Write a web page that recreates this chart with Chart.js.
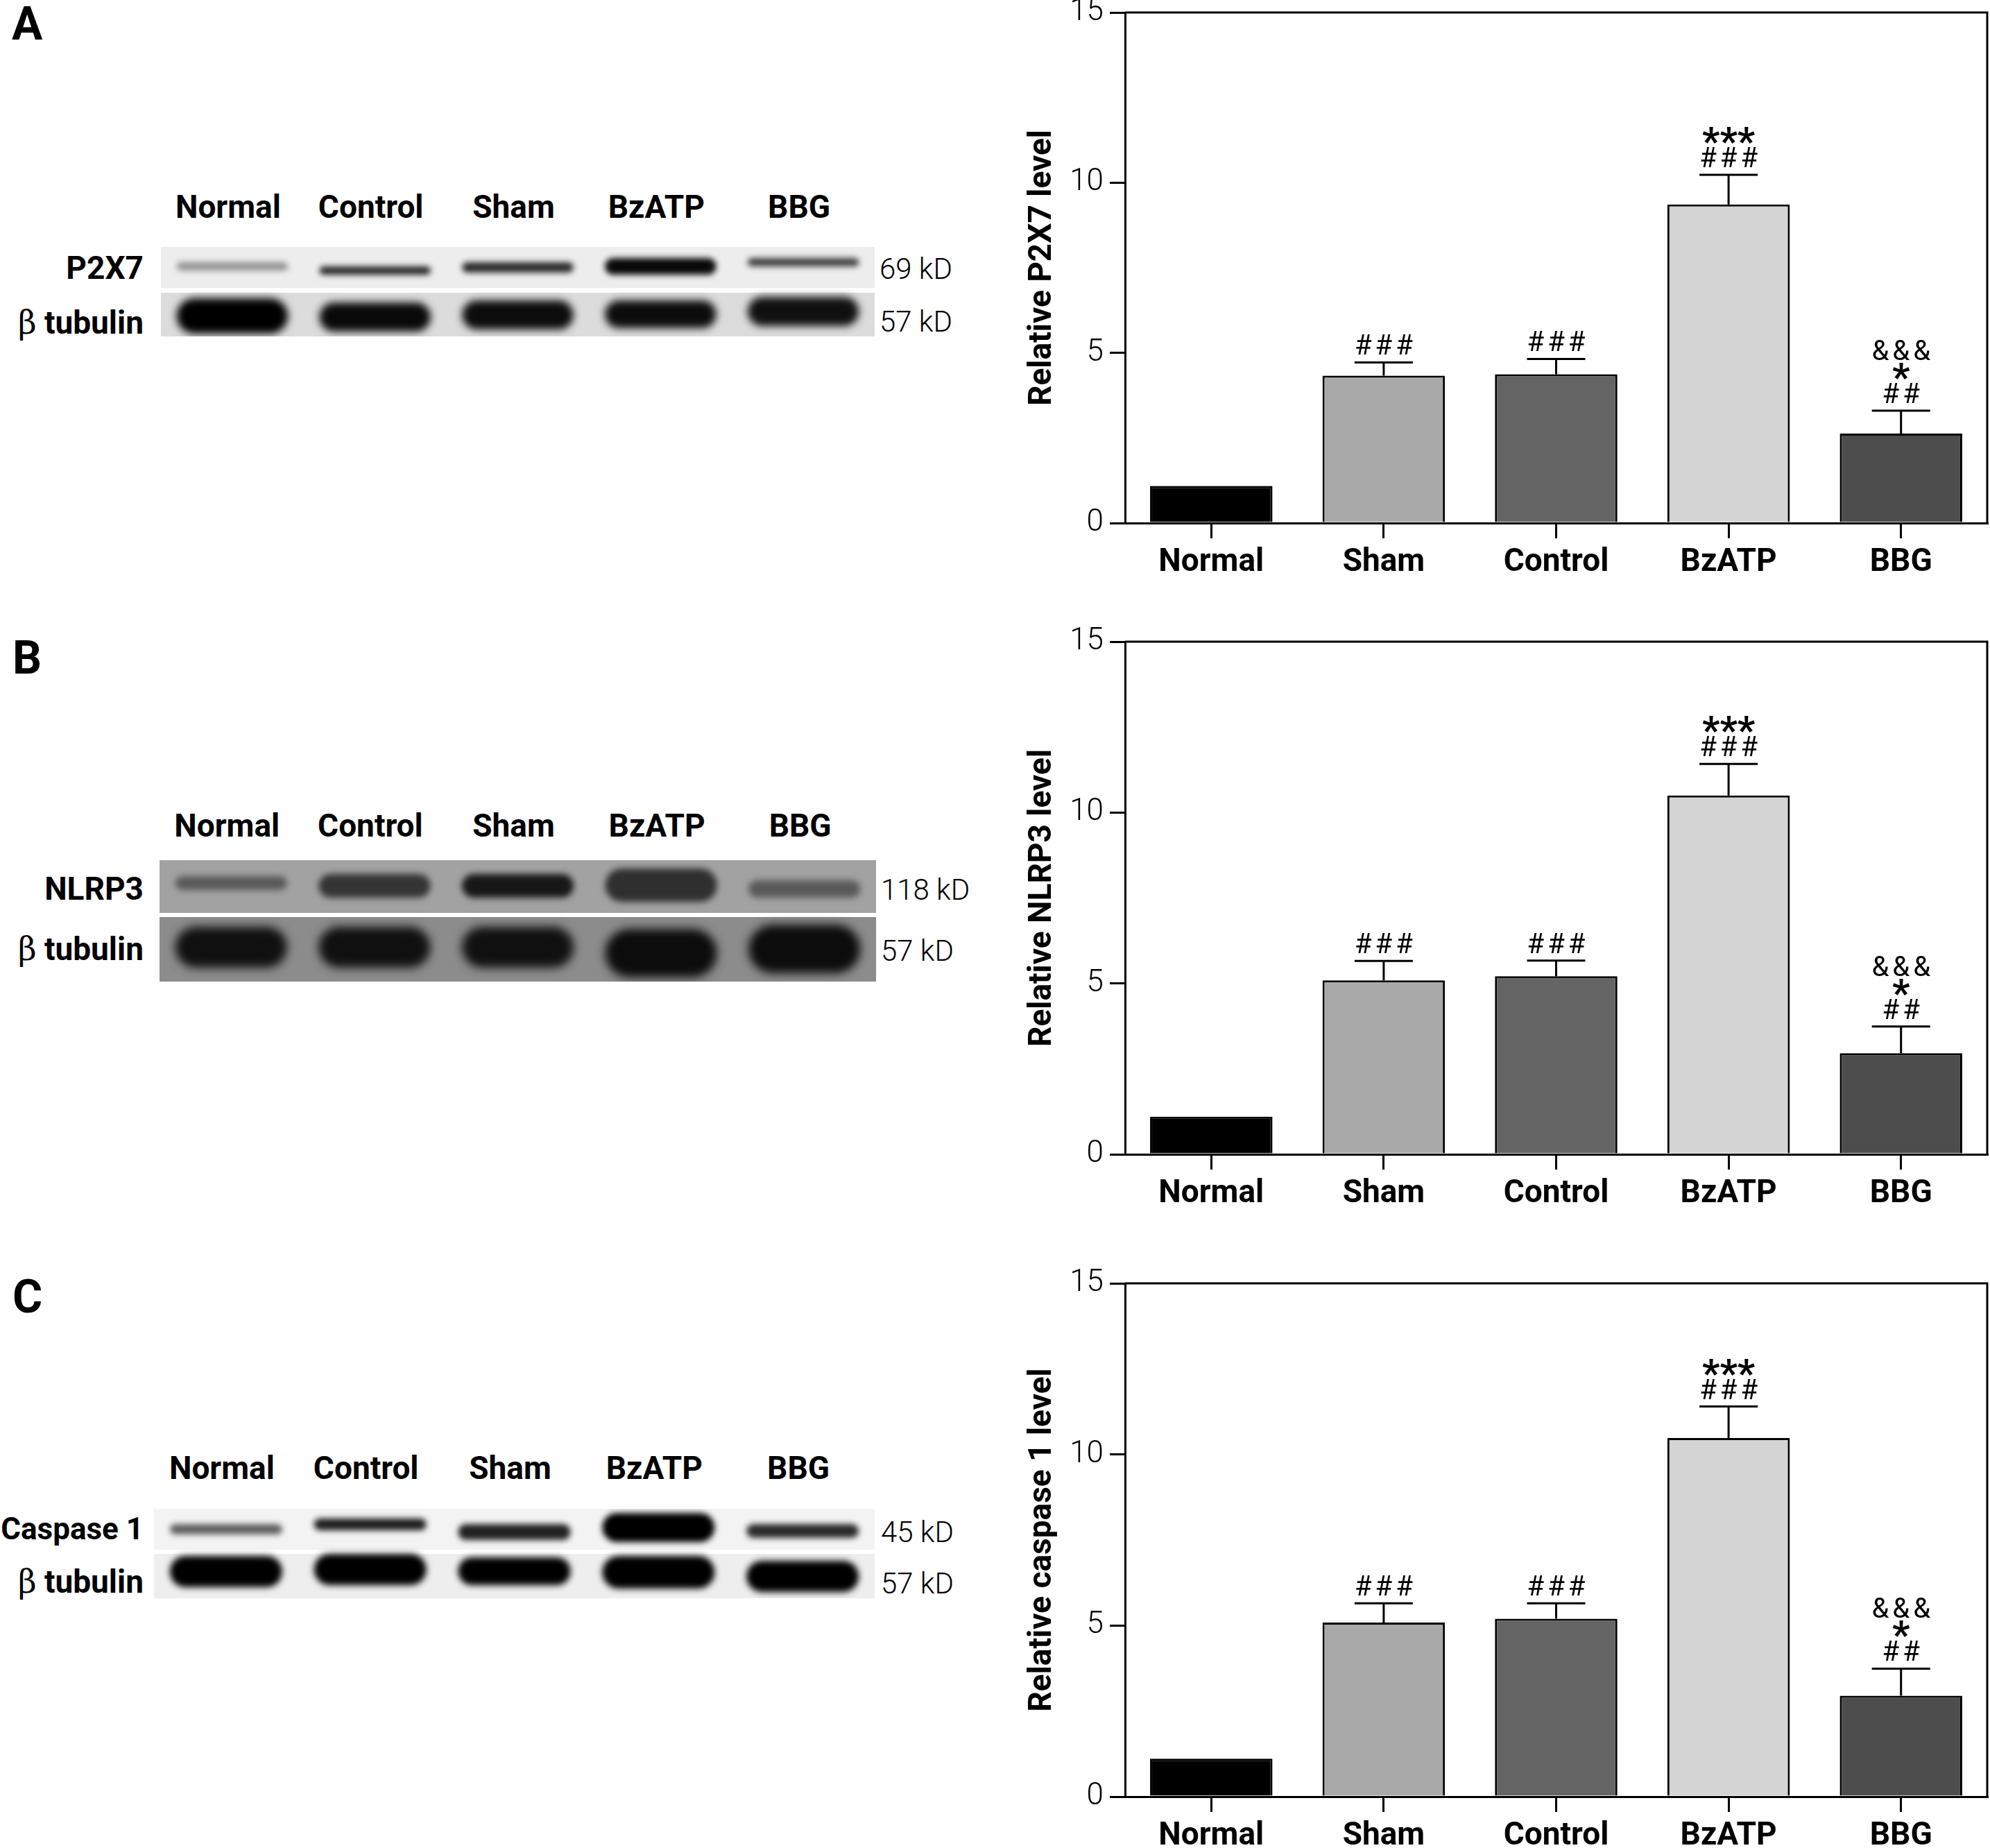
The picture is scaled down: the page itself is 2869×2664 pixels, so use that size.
<!DOCTYPE html>
<html>
<head>
<meta charset="utf-8">
<script src="https://cdn.jsdelivr.net/npm/chart.js@4.4.1/dist/chart.umd.min.js"></script>
<style>
  body { margin: 0; background: #fff; width: 2869px; height: 2664px; position: relative; overflow: hidden; }
  canvas { position: absolute; }
  .lbl { position: absolute; white-space: nowrap; line-height: 1; color: #000; font-family: Roboto, 'Noto Sans', sans-serif; }
  .beta { font-weight: normal; font-family: 'DejaVu Serif', 'Liberation Serif', serif; }
</style>
</head>
<body>
<canvas id="blotA" width="1029" height="129" style="left:232px;top:356px"></canvas>
<canvas id="blotB" width="1033" height="175" style="left:230px;top:1240px"></canvas>
<canvas id="blotC" width="1039" height="129" style="left:222px;top:2175px"></canvas>
<canvas id="chartA" width="1419" height="880" style="left:1450px;top:0px"></canvas>
<canvas id="chartB" width="1419" height="880" style="left:1450px;top:900px"></canvas>
<canvas id="chartC" width="1419" height="880" style="left:1450px;top:1784px"></canvas>
<script>
const FONT = "Roboto, 'Noto Sans', sans-serif";

// groups on the bar charts and lanes on the blots (different order)
const groups = ['Normal', 'Sham', 'Control', 'BzATP', 'BBG'];
const lanes = ['Normal', 'Control', 'Sham', 'BzATP', 'BBG'];
const yTicks = [0, 5, 10, 15];

// mean and upper end of the error bar
const p2x7Mean = [1.09, 4.33, 4.37, 9.36, 2.63];
const p2x7Err = [1.09, 4.72, 4.82, 10.23, 3.30];
const nlrp3Mean = [1.10, 5.09, 5.21, 10.50, 2.96];
const nlrp3Err = [1.10, 5.66, 5.67, 11.42, 3.74];
const casp1Mean = [1.11, 5.09, 5.20, 10.48, 2.95];
const casp1Err = [1.11, 5.65, 5.65, 11.40, 3.74];

// significance marks, bottom line first
const marks = [[], ['###'], ['###'], ['###', '***'], ['##', '*', '&&&']];
const barColors = ['#000000', '#a9a9a9', '#646464', '#d4d4d4', '#4d4d4d'];

// blot bands: extent along the gel (rows) and darkness 0..1
const p2x7Bands = [[22, 34], [28, 40], [22, 37], [16, 40], [16, 28]];
const p2x7Dark = [0.38, 0.84, 0.82, 0.96, 0.74];
const tubABands = [[74, 125], [80, 122], [77, 119], [77, 117], [72, 114]];
const tubADark = [1, 0.96, 0.95, 0.95, 0.93];

const nlrp3Bands = [[23, 43], [20, 54], [20, 54], [12, 60], [29, 54]];
const nlrp3Dark = [0.62, 0.78, 0.9, 0.8, 0.62];
const tubBBands = [[96, 155], [96, 155], [96, 155], [99, 169], [93, 163]];
const tubBDark = [0.93, 0.93, 0.93, 0.95, 0.95];

const casp1Bands = [[22, 37], [14, 31], [22, 45], [6, 48], [22, 42]];
const casp1Dark = [0.6, 0.88, 0.86, 1, 0.82];
const tubCBands = [[68, 113], [65, 110], [70, 110], [68, 115], [75, 120]];
const tubCDark = [1, 1, 1, 1, 1];

function shade(d) {
    const g = Math.round(235 * (1 - d));
    return `rgb(${g},${g},${g})`;
}

const stripPlugin = {
    id: 'strips',
    beforeDatasetsDraw(chart) {
        const { ctx, chartArea, scales } = chart;
        (chart.options.strips || []).forEach(s => {
            const y0 = scales.y.getPixelForValue(s.from);
            const y1 = scales.y.getPixelForValue(s.to);
            ctx.fillStyle = s.color;
            ctx.fillRect(chartArea.left, y0, chartArea.right - chartArea.left, y1 - y0);
        });
    }
};

const blurPlugin = {
    id: 'blur',
    beforeDatasetDraw(chart, args) {
        chart.ctx.save();
        chart.ctx.filter = `blur(${chart.data.datasets[args.index].blur || 0}px)`;
    },
    afterDatasetDraw(chart) {
        chart.ctx.restore();
    }
};

function blot(id, rows, strips, bandSets) {
    return new Chart(document.getElementById(id), {
        type: 'bar',
        data: {
            labels: lanes,
            datasets: bandSets.map(b => ({
                data: b.bands,
                backgroundColor: b.dark.map(shade),
                borderWidth: 0,
                borderRadius: 100,
                borderSkipped: false,
                barPercentage: 0.78,
                categoryPercentage: 1,
                grouped: false,
                blur: b.blur
            }))
        },
        options: {
            responsive: false, animation: false, devicePixelRatio: 1,
            strips: strips,
            layout: { padding: 0 },
            plugins: { legend: { display: false }, tooltip: { enabled: false } },
            scales: {
                x: { display: false },
                y: { display: false, reverse: true, min: 0, max: rows }
            }
        },
        plugins: [stripPlugin, blurPlugin]
    });
}

const framePlugin = {
    id: 'frame',
    afterDraw(chart) {
        const { ctx, chartArea } = chart;
        ctx.save();
        ctx.strokeStyle = '#000';
        ctx.lineWidth = 3;
        ctx.beginPath();
        ctx.moveTo(chartArea.left, chartArea.top);
        ctx.lineTo(chartArea.right, chartArea.top);
        ctx.lineTo(chartArea.right, chartArea.bottom);
        ctx.stroke();
        ctx.restore();
    }
};

const errorPlugin = {
    id: 'errors',
    afterDatasetsDraw(chart) {
        const { ctx, scales } = chart;
        const ds = chart.data.datasets[0];
        const meta = chart.getDatasetMeta(0);
        ctx.save();
        ctx.strokeStyle = '#000';
        ctx.fillStyle = '#000';
        ctx.lineWidth = 3;
        meta.data.forEach((bar, i) => {
            const yTop = scales.y.getPixelForValue(ds.data[i]);
            const yErr = scales.y.getPixelForValue(ds.errTop[i]);
            if (ds.errTop[i] > ds.data[i]) {
                ctx.beginPath();
                ctx.moveTo(bar.x, yTop);
                ctx.lineTo(bar.x, yErr);
                ctx.moveTo(bar.x - 42, yErr);
                ctx.lineTo(bar.x + 42, yErr);
                ctx.stroke();
            }
            let base = yErr - 11;
            ctx.textAlign = 'center';
            ctx.textBaseline = 'alphabetic';
            marks[i].forEach(m => {
                if (m.includes('*')) {
                    ctx.font = 'bold 56px ' + FONT;
                    ctx.letterSpacing = '0px';
                    ctx.fillText(m, bar.x, base + 11);
                    base -= 33;
                } else {
                    ctx.font = '40px ' + FONT;
                    ctx.letterSpacing = '5px';
                    ctx.fillText(m, bar.x + 2.5, base);
                    base -= 29;
                }
            });
        });
        ctx.restore();
    }
};

function barChart(id, title, means, errs, padTop, xHeight) {
    return new Chart(document.getElementById(id), {
        type: 'bar',
        data: {
            labels: groups,
            datasets: [{
                data: means,
                errTop: errs,
                backgroundColor: barColors,
                borderColor: '#000',
                borderWidth: 3,
                barPercentage: 0.71,
                categoryPercentage: 1
            }]
        },
        options: {
            responsive: false, animation: false, devicePixelRatio: 1,
            layout: { padding: { top: padTop, right: 4, left: 0, bottom: 0 } },
            plugins: { legend: { display: false }, tooltip: { enabled: false } },
            scales: {
                x: {
                    grid: { offset: false, drawOnChartArea: false, tickLength: 22, lineWidth: 3, color: '#000' },
                    border: { color: '#000', width: 3 },
                    ticks: { color: '#000', padding: 8, font: { family: FONT, size: 46, weight: 'bold' } },
                    afterFit: s => { s.height = xHeight; s.paddingLeft = 0; s.paddingRight = 0; }
                },
                y: {
                    min: 0, max: 15,
                    afterBuildTicks: s => { s.ticks = yTicks.map(v => ({ value: v })); },
                    grid: { drawOnChartArea: false, tickLength: 22, lineWidth: 3, color: '#000' },
                    border: { color: '#000', width: 3 },
                    ticks: { color: '#000', padding: 9, font: { family: FONT, size: 44, weight: '300' } },
                    title: { display: true, text: title, color: '#000', padding: { top: 26, bottom: 0 },
                             font: { family: FONT, size: 46, weight: 'bold' } },
                    afterFit: s => { s.width = 172; s.paddingTop = 0; s.paddingBottom = 0; }
                }
            }
        },
        plugins: [framePlugin, errorPlugin]
    });
}

function putText(html, x, baseline, size, weight, align) {
    const d = document.createElement('div');
    d.className = 'lbl';
    d.innerHTML = html;
    d.style.left = x + 'px';
    d.style.top = (baseline - 0.842 * size) + 'px';
    d.style.fontSize = size + 'px';
    d.style.fontWeight = weight;
    if (align === 'center') d.style.transform = 'translateX(-50%)';
    if (align === 'right') d.style.transform = 'translateX(-100%)';
    document.body.appendChild(d);
}

function laneLabels(chart, left, baseline) {
    lanes.forEach((name, i) => {
        putText(name, left - 6 + chart.scales.x.getPixelForValue(i), baseline, 46, 'bold', 'center');
    });
}

const BETA = '<span class="beta">β</span> tubulin';

// A
const blotA = blot('blotA', 129,
    [{ from: 0, to: 59, color: '#ededed' }, { from: 66, to: 129, color: '#dcdcdc' }],
    [{ bands: p2x7Bands, dark: p2x7Dark, blur: 4 }, { bands: tubABands, dark: tubADark, blur: 6 }]);
laneLabels(blotA, 232, 314);
putText('P2X7', 207, 402, 46, 'bold', 'right');
putText(BETA, 207, 481, 46, 'bold', 'right');
putText('69 kD', 1268, 402, 42, '300', 'left');
putText('57 kD', 1268, 478, 42, '300', 'left');
putText('A', 17, 58, 66, 'bold', 'left');
barChart('chartA', 'Relative P2X7 level', p2x7Mean, p2x7Err, 18, 126);

// B
const blotB = blot('blotB', 175,
    [{ from: 0, to: 76, color: '#a2a2a2' }, { from: 82, to: 175, color: '#8c8c8c' }],
    [{ bands: nlrp3Bands, dark: nlrp3Dark, blur: 5 }, { bands: tubBBands, dark: tubBDark, blur: 7 }]);
laneLabels(blotB, 230, 1206);
putText('NLRP3', 207, 1297, 46, 'bold', 'right');
putText(BETA, 207, 1384, 46, 'bold', 'right');
putText('118 kD', 1270, 1297, 42, '300', 'left');
putText('57 kD', 1270, 1385, 42, '300', 'left');
putText('B', 18, 972, 66, 'bold', 'left');
barChart('chartB', 'Relative NLRP3 level', nlrp3Mean, nlrp3Err, 25, 116);

// C
const blotC = blot('blotC', 129,
    [{ from: 0, to: 59, color: '#f3f3f3' }, { from: 65, to: 129, color: '#eeeeee' }],
    [{ bands: casp1Bands, dark: casp1Dark, blur: 4 }, { bands: tubCBands, dark: tubCDark, blur: 5 }]);
laneLabels(blotC, 222, 2132);
putText('Caspase 1', 207, 2219, 44, 'bold', 'right');
putText(BETA, 207, 2296, 46, 'bold', 'right');
putText('45 kD', 1270, 2223, 42, '300', 'left');
putText('57 kD', 1270, 2297, 42, '300', 'left');
putText('C', 18, 1893, 66, 'bold', 'left');
barChart('chartC', 'Relative caspase 1 level', casp1Mean, casp1Err, 66, 74);
</script>
</body>
</html>
